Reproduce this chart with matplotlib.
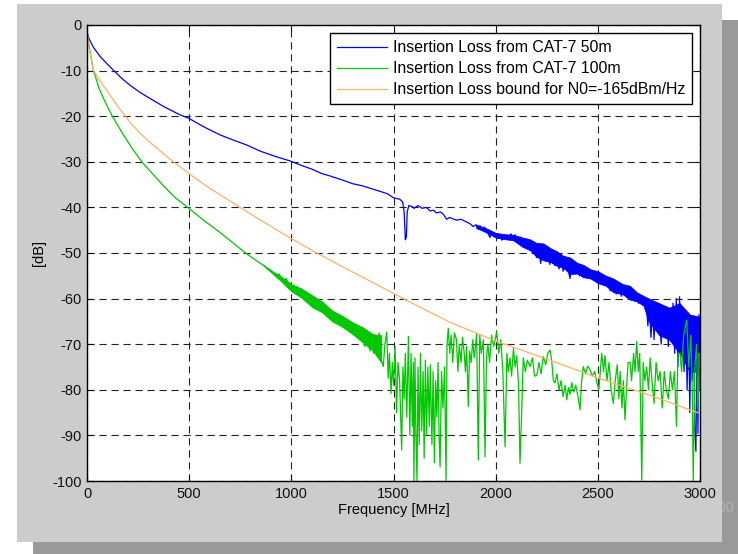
import matplotlib.pyplot as plt
from matplotlib.patches import Rectangle

# frequency [MHz] / insertion loss [dB]
f_50m = [0, 10, 30, 64, 100, 129, 170, 210, 260, 308, 380, 455, 500, 570, 651, 720, 781, 850, 920, 993,
         1050, 1100, 1150, 1189, 1250, 1300, 1350, 1400, 1434, 1470, 1500, 1530, 1545, 1552, 1558, 1563, 1567, 1575,
         1590, 1600, 1620, 1640, 1660, 1680, 1695, 1710, 1730, 1744, 1760, 1775, 1790, 1810, 1830, 1858, 1875, 1890,
         1905, 1915, 1923, 1935, 1945, 1960, 1972, 1980, 1990, 2000, 2010, 2021, 2030, 2045, 2060, 2075, 2086, 2095,
         2110, 2120, 2135, 2150, 2160, 2168, 2180, 2190, 2200, 2210, 2220, 2233, 2245, 2255, 2265, 2275, 2290, 2299,
         2310, 2320, 2330, 2345, 2355, 2364, 2372, 2385, 2395, 2410, 2420, 2429, 2440, 2455, 2470, 2485, 2500, 2510,
         2520, 2535, 2545, 2560, 2576, 2590, 2600, 2615, 2630, 2645, 2657, 2670, 2685, 2700, 2710, 2723, 2735, 2745,
         2752, 2760, 2768, 2775, 2782, 2790, 2800, 2810, 2818, 2826, 2837, 2845, 2852, 2860, 2868, 2876, 2884, 2892,
         2900, 2908, 2915, 2922, 2930, 2937, 2944, 2950, 2956, 2962, 2968, 2974, 2980, 2985, 2990, 2995, 3000]
il_50m = [-1.5, -3.0, -4.8, -6.9, -8.6, -9.9, -11.7, -13.2, -14.8, -16.1, -18.0, -19.7, -20.5, -22.3, -24.1, -25.3,
          -26.3, -27.7, -28.8, -29.8, -30.8, -31.6, -32.6, -33.1, -34.0, -34.8, -35.3, -36.0, -36.5, -37.0, -37.9,
          -38.2, -38.8, -41.0, -47.1, -46.5, -41.0, -39.6, -39.8, -40.2, -39.6, -40.2, -40.0, -40.8, -40.6, -41.2,
          -41.0, -41.5, -42.6, -42.2, -42.5, -42.8, -42.6, -43.2, -43.6, -44.2, -43.8, -44.8, -44.0, -45.0, -44.3,
          -45.5, -46.6, -45.4, -46.0, -45.7, -46.8, -46.0, -47.2, -46.2, -47.0, -45.8, -47.2, -46.0, -47.8, -46.5,
          -48.2, -47.0, -49.0, -47.5, -49.5, -48.0, -51.0, -48.3, -52.3, -48.5, -51.5, -49.0, -52.5, -49.5, -52.8,
          -50.0, -53.5, -50.5, -54.0, -51.3, -53.8, -55.6, -52.0, -54.5, -52.3, -55.0, -52.8, -55.3, -53.2, -55.5,
          -54.0, -56.0, -54.5, -56.5, -54.8, -57.0, -55.5, -58.3, -56.5, -59.0, -56.7, -59.5, -57.5, -59.8, -58.0,
          -60.0, -58.7, -61.0, -59.5, -61.5, -60.0, -66.0, -61.0, -68.5, -62.0, -69.0, -61.5, -66.5, -62.5, -70.0,
          -63.0, -67.5, -62.5, -70.5, -63.5, -69.0, -61.0, -72.0, -60.0, -74.9, -59.6, -72.0, -63.0, -76.0, -64.5,
          -80.0, -63.2, -85.0, -66.0, -78.0, -64.0, -88.0, -93.5, -70.0, -89.6, -63.5, -80.0]

# upper / lower edge of the dense noise band of the 50m trace
band50_f = [1905, 1960, 2000, 2050, 2086, 2130, 2168, 2200, 2233, 2270, 2299, 2330, 2364, 2400, 2429, 2465, 2500,
            2540, 2576, 2620, 2657, 2690, 2723, 2750, 2800, 2850, 2900, 2950, 3000]
band50_hi = [-43.8, -44.7, -45.6, -45.9, -46.0, -46.6, -47.0, -47.8, -47.9, -49.0, -49.6, -50.6, -51.0, -52.2,
             -52.6, -53.6, -54.0, -55.0, -55.6, -56.8, -57.2, -58.6, -59.4, -60.0, -61.0, -62.0, -61.0, -63.5, -64.0]
band50_lo = [-44.5, -45.6, -46.6, -47.0, -47.2, -48.6, -49.4, -50.8, -51.6, -52.0, -52.8, -53.2, -54.6, -54.5,
             -55.3, -55.6, -56.6, -57.2, -58.6, -59.0, -60.2, -60.6, -61.5, -65.0, -68.0, -69.0, -72.0, -76.0, -76.0]

f_100m = [0, 10, 31, 60, 90, 124, 170, 220, 268, 320, 373, 430, 493, 570, 651, 720, 776, 830, 879, 900, 920, 940,
          960, 975, 993, 1000, 1010, 1020, 1035, 1050, 1065, 1080, 1095, 1108, 1120, 1135, 1150, 1165, 1180, 1195,
          1206, 1220, 1235, 1250, 1265, 1280, 1295, 1304, 1315, 1325, 1340, 1350, 1360, 1370, 1385, 1395, 1402, 1412,
          1420, 1430, 1440, 1450, 1458, 1467, 1474, 1480, 1488, 1494, 1500, 1508, 1515, 1522, 1530, 1540, 1546, 1552,
          1558, 1565, 1573, 1580, 1586, 1592, 1597, 1600, 1605, 1610, 1615, 1620, 1626, 1632, 1638, 1645, 1650, 1656,
          1662, 1668, 1675, 1680, 1688, 1694, 1700, 1706, 1712, 1718, 1723, 1728, 1735, 1742, 1750, 1757, 1762, 1768,
          1775, 1782, 1790, 1798, 1808, 1815, 1822, 1830, 1838, 1846, 1852, 1858, 1866, 1872, 1880, 1888, 1895, 1902,
          1907, 1915, 1922, 1930, 1940, 1948, 1955, 1962, 1970, 1980, 1990, 2005, 2015, 2025, 2035, 2046, 2055, 2062,
          2070, 2078, 2087, 2095, 2103, 2112, 2119, 2127, 2135, 2145, 2155, 2168, 2180, 2190, 2201, 2212, 2222, 2233,
          2245, 2255, 2266, 2274, 2282, 2290, 2300, 2310, 2320, 2330, 2340, 2348, 2356, 2364, 2372, 2382, 2392, 2405,
          2413, 2420, 2429, 2440, 2450, 2462, 2472, 2485, 2495, 2505, 2512, 2519, 2528, 2535, 2545, 2555, 2565, 2576,
          2585, 2595, 2603, 2609, 2618, 2625, 2633, 2640, 2648, 2658, 2665, 2675, 2682, 2690, 2698, 2705, 2715, 2722,
          2730, 2739, 2748, 2756, 2765, 2775, 2785, 2795, 2805, 2815, 2825, 2835, 2845, 2855, 2865, 2875, 2885, 2892,
          2902, 2910, 2920, 2935, 2945, 2955, 2962, 2967, 2975, 2983, 2990, 2996, 3000]
il_100m = [-1.5, -4.5, -9.9, -14.0, -17.0, -20.0, -23.5, -27.0, -30.0, -32.6, -35.2, -37.8, -40.0, -42.8, -45.5,
           -48.0, -50.0, -51.7, -53.2, -53.8, -55.0, -54.6, -56.2, -55.6, -57.4, -56.8, -58.5, -57.5, -59.0, -58.0,
           -60.2, -59.0, -61.5, -60.0, -62.3, -60.5, -62.5, -61.5, -63.5, -62.8, -64.7, -63.5, -65.5, -64.5, -66.5,
           -65.0, -67.0, -66.3, -68.0, -66.5, -69.0, -67.3, -70.5, -68.0, -71.5, -68.5, -72.0, -69.5, -71.0, -67.5,
           -73.5, -74.9, -70.0, -67.3, -77.5, -72.0, -80.8, -74.0, -79.0, -70.5, -85.0, -74.0, -78.0, -93.2, -75.0,
           -82.0, -72.0, -86.0, -68.3, -90.0, -72.0, -88.0, -74.0, -100.0, -73.0, -91.0, -100.0, -75.0, -92.0, -72.0,
           -89.0, -76.0, -95.0, -73.5, -90.0, -75.0, -88.0, -74.5, -92.0, -76.0, -96.0, -78.0, -86.0, -74.0, -90.0,
           -96.9, -76.0, -84.0, -75.0, -100.0, -70.0, -66.5, -72.0, -68.0, -74.0, -67.5, -69.0, -76.0, -70.0, -74.0,
           -68.5, -72.0, -76.0, -70.5, -83.7, -71.5, -74.0, -69.0, -73.0, -70.0, -67.6, -95.4, -68.0, -72.0, -69.0,
           -94.7, -73.0, -70.0, -74.0, -68.0, -70.5, -67.3, -72.0, -69.0, -76.0, -92.5, -72.0, -76.0, -73.0, -77.0,
           -70.9, -75.0, -72.5, -79.0, -96.1, -85.5, -73.0, -76.0, -73.5, -74.9, -73.0, -77.0, -76.8, -74.0, -76.5,
           -72.7, -74.5, -72.0, -71.3, -73.5, -77.9, -78.5, -76.5, -80.0, -78.0, -81.5, -79.0, -82.2, -79.5, -81.0,
           -78.4, -80.5, -79.0, -82.0, -84.4, -78.5, -74.9, -76.5, -74.8, -75.6, -77.0, -76.0, -78.4, -80.0, -76.0,
           -72.0, -76.0, -72.5, -78.0, -74.0, -80.0, -83.0, -78.0, -74.5, -82.0, -76.0, -84.0, -78.0, -86.6, -80.0,
           -74.0, -74.0, -78.0, -72.0, -76.0, -69.4, -76.0, -72.0, -99.8, -74.0, -78.0, -75.0, -80.0, -73.0, -78.0,
           -83.0, -74.0, -78.0, -76.0, -84.0, -76.0, -80.0, -82.0, -76.0, -80.0, -76.0, -88.0, -72.0, -72.0, -76.0,
           -68.0, -64.7, -75.0, -68.0, -80.0, -100.0, -75.0, -70.0, -85.0, -72.0, -75.0]

# noise band of the 100m trace before it breaks up
band100_f = [860, 900, 945, 1000, 1050, 1100, 1150, 1200, 1250, 1300, 1350, 1400, 1440]
band100_hi = [-52.5, -53.8, -55.0, -56.8, -57.8, -59.2, -60.6, -62.6, -63.8, -65.2, -66.3, -67.8, -68.0]
band100_lo = [-52.6, -54.2, -56.0, -58.4, -59.8, -61.8, -63.0, -65.0, -66.2, -67.8, -69.6, -71.5, -74.0]

f_bound = [0, 1, 10, 31, 64, 113, 150, 186, 220, 259, 300, 357, 414, 500, 600, 700, 749, 850, 998, 1108, 1250,
           1400, 1560, 1777, 2000, 2266, 2500, 2755, 3000]
il_bound = [-14.6, -1.5, -5.0, -9.9, -12.3, -15.4, -17.8, -19.9, -21.8, -23.7, -25.4, -27.6, -29.7, -32.6, -35.8,
            -38.6, -40.0, -42.8, -46.8, -49.6, -53.0, -56.5, -60.3, -65.2, -69.3, -73.5, -77.4, -81.2, -85.2]

labels = ['Insertion Loss from CAT-7 50m', 'Insertion Loss from CAT-7 100m',
          'Insertion Loss bound for N0=-165dBm/Hz']

plt.rcParams['font.family'] = ['Liberation Sans', 'DejaVu Sans']
plt.rcParams['axes.unicode_minus'] = False
W, H = 738, 554
fig = plt.figure(figsize=(W / 100, H / 100), dpi=100, facecolor='white')


def px_rect(x0, y0, x1, y1, color, z):
    fig.patches.append(Rectangle((x0 / W, 1 - y1 / H), (x1 - x0) / W, (y1 - y0) / H,
                                 transform=fig.transFigure, facecolor=color, edgecolor='none', zorder=z))


# shadow + grey panel behind the axes
px_rect(33, 20, 760, 580, '#999999', -3)
fig.text(734 / W, 1 - 508 / H, '3000', ha='right', va='center', fontsize=10.5, color='#b4b4b4', zorder=-2)
px_rect(17, 4, 722, 542, '#cccccc', -1)

ax = fig.add_axes([87 / W, 1 - 481 / H, (700 - 87) / W, (481 - 25) / H])
ax.plot(f_50m, il_50m, color='#0000ff', lw=0.9, label=labels[0])
ax.fill_between(band50_f, band50_hi, band50_lo, color='#0000ff', lw=0.6)
ax.plot(f_100m, il_100m, color='#00c800', lw=0.9, label=labels[1])
ax.fill_between(band100_f, band100_hi, band100_lo, color='#00c800', lw=0.6)
ax.plot(f_bound, il_bound, color='#ffb266', lw=0.9, label=labels[2])

ax.set_xlim(0, 3000)
ax.set_ylim(-100, 0)
ax.set_xticks(range(0, 3001, 500))
ax.set_yticks(range(-100, 1, 10))
ax.set_axisbelow(True)
ax.grid(True, color='#222222', lw=0.8, linestyle=(0, (6.5, 4.3)))
ax.tick_params(direction='in', top=True, right=True, length=4, width=0.8, labelsize=10.5, colors='#111111', pad=4)
for s in ax.spines.values():
    s.set_linewidth(1.0)
ax.set_xlabel('Frequency [MHz]', fontsize=10.5, labelpad=2)
ax.set_ylabel('[dB]', fontsize=10.5, labelpad=4)

leg = ax.legend(loc='upper right', bbox_to_anchor=(0.987, 0.982), fontsize=11.4, handlelength=3.15,
                handletextpad=0.35, borderpad=0.45, labelspacing=0.38, borderaxespad=0, fancybox=False,
                framealpha=1, edgecolor='black')
leg.get_frame().set_linewidth(1.0)

fig.savefig('out.png', dpi=100, facecolor='white')
